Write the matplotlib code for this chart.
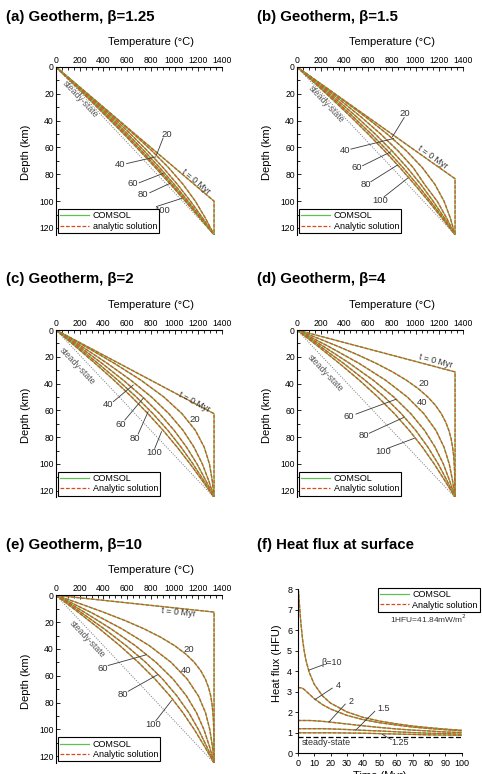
import matplotlib
matplotlib.use('Agg')
import matplotlib.pyplot as plt
from matplotlib.lines import Line2D
from matplotlib.ticker import MultipleLocator

plt.rcParams['font.family'] = ['Liberation Sans', 'DejaVu Sans']

# ---- data ----
# depth samples (km) for the geotherms
depth = [0, 12.5, 25, 37.5, 50, 62.5, 75, 87.5, 100, 112.5, 125]
depth_fine = [0, 6.25, 12.5, 18.75, 25, 31.25, 37.5, 43.75, 50, 56.25, 62.5,
              68.75, 75, 81.25, 87.5, 93.75, 100, 106.25, 112.5, 118.75, 125]
times = [20, 40, 60, 80, 100]
T_base = 1333            # asthenosphere temperature (C)
lith = 125               # lithosphere thickness (km)
betas = ['1.25', '1.5', '2', '4', '10']
t0_kink = [100, 83.3, 62.5, 31.3, 12.5]   # depth where t=0 geotherm reaches T_base

# temperatures (C) at `depth`, one row per time (20, 40, 60, 80, 100 Myr)
b125_T = [[0, 166, 332, 496, 656, 809, 949, 1072, 1175, 1259, 1333],
          [0, 162, 323, 479, 629, 771, 903, 1024, 1134, 1236, 1333],
          [0, 156, 310, 460, 605, 743, 874, 997, 1113, 1224, 1333],
          [0, 150, 299, 444, 586, 722, 853, 979, 1100, 1217, 1333],
          [0, 146, 290, 432, 572, 707, 838, 966, 1090, 1212, 1333]]
b15_T = [[0, 198, 393, 583, 761, 922, 1057, 1163, 1240, 1293, 1333],
         [0, 187, 369, 544, 706, 852, 980, 1076, 1182, 1261, 1333],
         [0, 174, 344, 507, 660, 801, 929, 1044, 1148, 1243, 1333],
         [0, 163, 324, 479, 626, 765, 894, 1013, 1125, 1230, 1333],
         [0, 155, 309, 458, 601, 738, 868, 991, 1109, 1222, 1333]]
b2_T = [[0, 252, 494, 717, 909, 1063, 1176, 1250, 1294, 1318, 1333],
        [0, 221, 434, 631, 805, 952, 1072, 1164, 1234, 1288, 1333],
        [0, 198, 389, 568, 731, 874, 997, 1101, 1189, 1264, 1333],
        [0, 180, 355, 522, 677, 818, 944, 1055, 1155, 1246, 1333],
        [0, 167, 331, 489, 638, 776, 904, 1022, 1131, 1234, 1333]]
# beta=4 and beta=10 at 20 Myr use depth_fine
b4_T20 = [0, 179, 353, 518, 670, 805, 923, 1022, 1103, 1168, 1217, 1254, 1281,
          1300, 1312, 1321, 1326, 1329, 1331, 1332, 1333]
b4_T = [[0, 271, 525, 747, 930, 1070, 1172, 1240, 1284, 1312, 1333],
        [0, 228, 445, 643, 816, 960, 1076, 1165, 1234, 1287, 1333],
        [0, 200, 394, 574, 737, 880, 1002, 1104, 1191, 1265, 1333],
        [0, 182, 358, 526, 681, 822, 947, 1058, 1157, 1247, 1333]]
b10_T20 = [0, 203, 398, 580, 743, 883, 1000, 1094, 1167, 1221, 1260, 1287, 1305,
           1316, 1323, 1328, 1330, 1332, 1332, 1333, 1333]
b10_T = [[0, 289, 556, 787, 971, 1107, 1201, 1261, 1297, 1319, 1333],
         [0, 238, 464, 668, 844, 988, 1100, 1185, 1247, 1294, 1333],
         [0, 207, 406, 591, 757, 900, 1020, 1120, 1201, 1270, 1333],
         [0, 186, 367, 538, 695, 836, 961, 1070, 1166, 1252, 1333]]

# surface heat flux (HFU) versus time (Myr)
hf_time = [0, 0.5, 1, 1.5, 2, 3, 4, 5, 7, 10, 15, 20, 30, 40, 50, 60, 70, 80, 90, 100]
hf_b10 = [8.00, 7.90, 7.33, 6.79, 6.29, 5.53, 4.97, 4.55, 3.95, 3.38, 2.81, 2.45,
          2.02, 1.75, 1.57, 1.44, 1.33, 1.25, 1.18, 1.12]
hf_b4 = [3.20, 3.20, 3.20, 3.20, 3.19, 3.17, 3.11, 3.04, 2.89, 2.67, 2.38, 2.16,
         1.85, 1.64, 1.49, 1.38, 1.28, 1.21, 1.15, 1.10]
hf_b2 = [1.60, 1.60, 1.60, 1.60, 1.60, 1.60, 1.60, 1.60, 1.60, 1.59, 1.56, 1.52,
         1.43, 1.34, 1.26, 1.19, 1.13, 1.09, 1.04, 1.01]
hf_b15 = [1.20, 1.20, 1.20, 1.20, 1.20, 1.20, 1.20, 1.20, 1.20, 1.20, 1.20, 1.19,
          1.16, 1.12, 1.09, 1.05, 1.01, 0.98, 0.96, 0.93]
hf_b125 = [1.00, 1.00, 1.00, 1.00, 1.00, 1.00, 1.00, 1.00, 1.00, 1.00, 1.00, 1.00,
           0.99, 0.98, 0.96, 0.94, 0.92, 0.90, 0.89, 0.88]
hf_steady = 0.8

# ---- styling ----
GREEN = '#5fc052'
RED = '#dc4a1c'
LBL = '#333333'
W, H = 482, 774

fig = plt.figure(figsize=(W / 100, H / 100), dpi=100)


def add_ax(left, top, right, bottom):
    return fig.add_axes([left / W, 1 - bottom / H, (right - left) / W, (bottom - top) / H])


def pair(ax, x, y):
    # COMSOL solid green underneath, analytic red dashes on top
    ax.plot(x, y, color=GREEN, lw=0.9)
    ax.plot(x, y, color=RED, lw=1.0, alpha=0.85, dashes=(2.6, 1.0))


def legend(ax, label2, **kw):
    h = [Line2D([], [], color=GREEN, lw=0.9),
         Line2D([], [], color=RED, lw=0.9, dashes=(3, 1.4))]
    lg = ax.legend(h, ['COMSOL', label2], fontsize=6.5, handlelength=3.2,
                   handletextpad=0.4, labelspacing=0.15, borderpad=0.25,
                   fancybox=False, framealpha=1, borderaxespad=0, **kw)
    lg.get_frame().set_edgecolor('black')
    lg.get_frame().set_linewidth(0.8)


def title(x, y, txt):
    fig.text(x / W, 1 - y / H, txt, fontsize=10.8, fontweight='bold',
             va='center', ha='left')


def geotherm(box, ttl, tpos, curves, kink, legend_label, t0_lbl, ss_lbl, nums):
    ax = add_ax(*box)
    ax.plot([0, T_base], [0, lith], ls=(0, (1, 1.5)), color='#777777', lw=0.7)
    pair(ax, [0, T_base, T_base], [0, kink, lith])
    for xs, ys in curves:
        pair(ax, ys, xs)
    ax.set_xlim(0, 1400)
    ax.set_ylim(lith, 0)
    ax.xaxis.tick_top()
    ax.xaxis.set_major_locator(MultipleLocator(200))
    ax.xaxis.set_minor_locator(MultipleLocator(50))
    ax.yaxis.set_major_locator(MultipleLocator(20))
    ax.yaxis.set_minor_locator(MultipleLocator(10))
    ax.tick_params(which='both', direction='in', labelsize=6.2, width=0.6, pad=1.5)
    ax.tick_params(which='major', length=3)
    ax.tick_params(which='minor', length=1.8)
    for s in ['right', 'bottom']:
        ax.spines[s].set_visible(False)
    for s in ['left', 'top']:
        ax.spines[s].set_linewidth(0.8)
    ax.xaxis.set_label_position('top')
    ax.set_xlabel('Temperature (°C)', fontsize=8)
    ax.xaxis.set_label_coords(0.57, 1.15)
    ax.xaxis.label.set_va('center')
    ax.set_ylabel('Depth (km)', fontsize=8)
    ax.yaxis.set_label_coords(-0.18, 0.49)
    ax.yaxis.label.set_va('center')
    title(tpos[0], tpos[1], ttl)
    legend(ax, legend_label, loc='lower left', bbox_to_anchor=(0.012, 0.01))
    ax.text(ss_lbl[0], ss_lbl[1], 'steady-state', rotation=-46.7, fontsize=6.3,
            color='#555555', ha='center', va='center', rotation_mode='anchor')
    ax.text(t0_lbl[0], t0_lbl[1], 't = 0 Myr', rotation=t0_lbl[2], fontsize=6.3,
            color=LBL, ha='center', va='center', rotation_mode='anchor')
    for txt, tx, ty, lead in nums:
        ax.text(tx, ty, txt, fontsize=6.8, color=LBL, ha='center', va='center')
        if lead:
            ax.plot([lead[0], lead[2]], [lead[1], lead[3]], color='#3a3a3a', lw=0.6)
    return ax


coarse = lambda rows: [(depth, r) for r in rows]

geotherm((56, 67, 222, 234.7), '(a) Geotherm, \u03b2=1.25', (6, 17),
         coarse(b125_T), t0_kink[0], 'analytic solution',
         (1184, 85.5, -40.3), (205, 24),
         [('20', 931, 50, (903, 53, 847, 65.7)),
          ('40', 539, 73, (595, 72, 842, 67)),
          ('60', 651, 87, (701, 86.3, 903, 79.3)),
          ('80', 730, 94.7, (791, 93.7, 960, 86.8)),
          ('100', 898, 106.6, (847, 104, 1058, 98))])

geotherm((297, 67, 463, 234.7), '(b) Geotherm, \u03b2=1.5', (257, 17),
         coarse(b15_T), t0_kink[1], 'Analytic solution',
         (1142, 67, -35.3), (245, 28),
         [('20', 909, 34.7, (904, 37.7, 805, 52)),
          ('40', 404, 62, (455, 61.2, 814, 53.3)),
          ('60', 502, 75, (553, 73.6, 791, 63.2)),
          ('80', 581, 87.3, (623, 85.5, 847, 73.1)),
          ('100', 701, 99.2, (735, 96.7, 932, 83))])

geotherm((56, 330, 222, 497.4), '(c) Geotherm, \u03b2=2', (6, 279),
         coarse(b2_T), t0_kink[2], 'Analytic solution',
         (1170, 53.5, -28), (180, 27),
         [('20', 1170, 67.2, None),
          ('40', 440, 56, (483, 53.5, 651, 41.1)),
          ('60', 544, 70.2, (581, 67.2, 735, 51)),
          ('80', 665, 81, (693, 77.7, 777, 61)),
          ('100', 825, 91.6, (833, 88.4, 890, 75.9))])

geotherm((297, 330, 463, 497.4), '(d) Geotherm, \u03b2=4', (257, 279),
         [(depth_fine, b4_T20)] + coarse(b4_T), t0_kink[3], 'Analytic solution',
         (1170, 22.9, -14.9), (238, 32),
         [('20', 1066, 40.3, None),
          ('40', 1058, 54, None),
          ('60', 440, 64.7, (497, 62.8, 833, 51.8)),
          ('80', 567, 78.9, (609, 77.1, 903, 65.2)),
          ('100', 730, 90.9, (763, 88.4, 988, 80.9))])

geotherm((56, 595.3, 222, 763), '(e) Geotherm, \u03b2=10', (6, 545),
         [(depth_fine, b10_T20)] + coarse(b10_T), t0_kink[4], 'Analytic solution',
         (1030, 12.8, -6), (262, 33),
         [('20', 1122, 40.5, None),
          ('40', 1100, 56, None),
          ('60', 393, 54.3, (440, 52.3, 763, 44.3)),
          ('80', 561, 74, (609, 71.5, 861, 59)),
          ('100', 819, 96.5, (842, 93.5, 974, 78.5))])

# ---- (f) heat flux ----
ax = add_ax(297.7, 589.3, 461.7, 753.3)
ax.plot([0, 100], [hf_steady, hf_steady], color='black', lw=0.9, dashes=(4, 2))
for series in [hf_b10, hf_b4, hf_b2, hf_b15, hf_b125]:
    pair(ax, hf_time, series)
ax.set_xlim(0, 100)
ax.set_ylim(0, 8)
ax.xaxis.set_major_locator(MultipleLocator(10))
ax.yaxis.set_major_locator(MultipleLocator(1))
ax.tick_params(which='both', direction='out', labelsize=6.5, width=0.6, length=2.5, pad=1.5)
for s in ['right', 'top']:
    ax.spines[s].set_visible(False)
for s in ['left', 'bottom']:
    ax.spines[s].set_linewidth(0.8)
ax.set_ylabel('Heat flux (HFU)', fontsize=8)
ax.yaxis.set_label_coords(-0.126, 0.55)
ax.yaxis.label.set_va('center')
ax.set_xlabel('Time (Myr)', fontsize=8)
ax.xaxis.set_label_coords(0.5, -(776 - 753.3) / 164)
ax.xaxis.label.set_va('center')
title(257, 545, '(f) Heat flux at surface')
legend(ax, 'Analytic solution', loc='upper right',
       bbox_to_anchor=(480 / W, 1 - 588 / H), bbox_transform=fig.transFigure)
ax.text(80, 6.55, '1HFU=41.84mW/m$^2$', fontsize=6, color=LBL, ha='center', va='center')
ax.text(17.5, 0.55, 'steady-state', fontsize=6.5, color=LBL, ha='center', va='center')
for txt, tx, ty, x0, y0 in [('\u03b2=10', 20.5, 4.45, 6.9, 4.06),
                            ('4', 24.6, 3.33, 10.5, 2.62),
                            ('2', 32.5, 2.55, 19.1, 1.53),
                            ('1.5', 52.5, 2.2, 35.5, 1.14),
                            ('1.25', 62.5, 0.55, 51.5, 0.93)]:
    ax.text(tx, ty, txt, fontsize=6.5, color=LBL, ha='center', va='center')
    ex = tx - (3.5 if len(txt) < 3 else 5.5)
    ey = ty - 0.15 if ty > y0 else ty + 0.12
    ax.plot([x0, ex], [y0, ey], color='#3a3a3a', lw=0.6)

fig.savefig('out.png', dpi=100)
